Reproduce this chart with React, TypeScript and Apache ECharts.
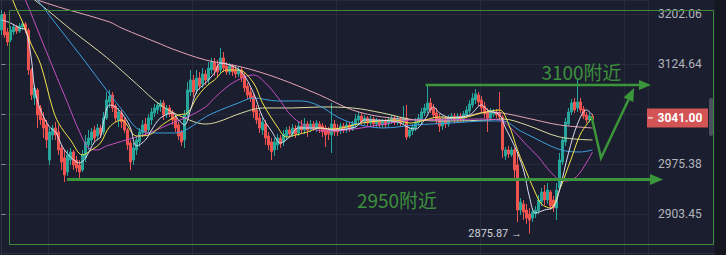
import React, { useEffect, useRef } from 'react';
import * as echarts from 'echarts';

// ---------- candles (price values) ----------
const OPEN = [
  3177.1, 3200.5, 3174.0, 3161.6, 3174.0, 3181.8, 3175.5, 3181.8, 3186.5, 3177.1,
  3115.5, 3073.1, 3085.2, 3058.1, 3043.2, 3032.8, 2981.2, 3017.9, 3028.3, 3022.4,
  2998.8, 2984.2, 2963.8, 2981.2, 2993.0, 2981.2, 2974.0, 2966.7, 2984.2, 3003.3,
  3010.6, 3025.3, 3016.5, 3028.3, 3022.4, 3043.2, 3067.1, 3077.7, 3061.1, 3040.2,
  3050.6, 3040.2, 3025.3, 3006.2, 2981.2, 2995.9, 3007.7, 3020.9, 3034.2, 3025.3,
  3040.2, 3050.6, 3055.1, 3059.6, 3065.6, 3049.1, 3058.1, 3052.1, 3043.2, 3032.8,
  3022.4, 3010.6, 3047.6, 3082.2, 3100.3, 3085.2, 3103.3, 3094.3, 3109.4, 3100.3,
  3115.5, 3127.7, 3121.6, 3115.5, 3133.9, 3121.6, 3112.5, 3121.6, 3115.5, 3109.4,
  3115.5, 3106.4, 3091.2, 3082.2, 3076.1, 3055.1, 3043.2, 3025.3, 3034.2, 3016.5,
  3007.7, 2995.9, 3003.3, 3013.5, 3007.7, 3016.5, 3025.3, 3019.4, 3028.3, 3020.9,
  3031.3, 3025.3, 3034.2, 3026.8, 3034.2, 3028.3, 3034.2, 3031.3, 3028.3, 3025.3,
  3017.9, 3034.2, 3028.3, 3023.8, 3031.3, 3025.3, 3032.8, 3026.8, 3032.8, 3040.2,
  3046.1, 3037.2, 3043.2, 3035.7, 3041.7, 3034.2, 3038.7, 3032.8, 3038.7, 3034.2,
  3038.7, 3043.2, 3037.2, 3041.7, 3037.2, 3043.2, 3016.5, 3023.8, 3028.3, 3035.7,
  3040.2, 3050.6, 3055.1, 3065.6, 3058.1, 3050.6, 3043.2, 3031.3, 3040.2, 3034.2,
  3041.7, 3046.1, 3040.2, 3046.1, 3041.7, 3047.6, 3053.6, 3062.6, 3070.1, 3077.7,
  3070.1, 3061.1, 3052.1, 3043.2, 3049.1, 3052.1, 3050.6, 3044.7, 2987.1, 2995.9,
  2988.6, 2995.9, 2974.0, 2909.1, 2917.7, 2909.1, 2903.5, 2897.7, 2903.5, 2907.7,
  2920.5, 2934.9, 2923.4, 2934.9, 2923.4, 2912.0, 2940.7, 2978.3, 3007.7, 3034.2,
  3052.1, 3067.1, 3058.1, 3067.1, 3056.6, 3047.6, 3040.2, 3046.1,
];
const CLOSE = [
  3200.5, 3169.3, 3158.5, 3177.1, 3181.8, 3175.5, 3183.3, 3186.5, 3177.1, 3115.5,
  3077.7, 3088.2, 3047.6, 3040.2, 3028.3, 3010.6, 3022.4, 3028.3, 3017.9, 2995.9,
  2978.3, 2959.5, 2988.6, 2993.0, 2974.0, 2969.6, 2963.8, 2988.6, 3007.7, 3013.5,
  3022.4, 3013.5, 3028.3, 3019.4, 3043.2, 3070.1, 3076.1, 3058.1, 3043.2, 3052.1,
  3037.2, 3025.3, 3003.3, 2978.3, 2998.8, 3010.6, 3022.4, 3032.8, 3022.4, 3043.2,
  3052.1, 3058.1, 3062.6, 3065.6, 3047.6, 3058.1, 3049.1, 3040.2, 3028.3, 3016.5,
  3007.7, 3047.6, 3085.2, 3100.3, 3082.2, 3103.3, 3091.2, 3109.4, 3100.3, 3118.5,
  3127.7, 3115.5, 3112.5, 3133.9, 3118.5, 3112.5, 3121.6, 3112.5, 3109.4, 3115.5,
  3103.3, 3088.2, 3077.7, 3073.1, 3052.1, 3040.2, 3028.3, 3037.2, 3013.5, 3003.3,
  2993.0, 3007.7, 3013.5, 3004.7, 3019.4, 3025.3, 3019.4, 3028.3, 3019.4, 3031.3,
  3025.3, 3034.2, 3025.3, 3034.2, 3028.3, 3035.7, 3026.8, 3022.4, 3017.9, 3019.4,
  3034.2, 3022.4, 3022.4, 3031.3, 3025.3, 3032.8, 3026.8, 3034.2, 3041.7, 3046.1,
  3037.2, 3043.2, 3035.7, 3041.7, 3034.2, 3040.2, 3032.8, 3038.7, 3032.8, 3040.2,
  3043.2, 3037.2, 3041.7, 3035.7, 3043.2, 3015.0, 3025.3, 3029.8, 3037.2, 3043.2,
  3052.1, 3058.1, 3065.6, 3055.1, 3047.6, 3040.2, 3031.3, 3040.2, 3034.2, 3043.2,
  3046.1, 3040.2, 3046.1, 3041.7, 3049.1, 3055.1, 3064.1, 3073.1, 3079.2, 3067.1,
  3058.1, 3049.1, 3043.2, 3052.1, 3052.1, 3047.6, 3044.7, 2995.9, 2995.9, 2990.0,
  2995.9, 2966.7, 2909.1, 2920.5, 2906.3, 2897.7, 2894.9, 2906.3, 2909.1, 2923.4,
  2934.9, 2923.4, 2937.8, 2914.8, 2912.0, 2937.8, 2981.2, 3010.6, 3037.2, 3052.1,
  3065.6, 3055.1, 3067.1, 3055.1, 3046.1, 3040.2, 3046.1, 3041.0,
];
const LOW = [
  3169.3, 3164.7, 3152.4, 3158.5, 3169.3, 3170.9, 3172.4, 3177.1, 3172.4, 3107.9,
  3070.1, 3062.6, 3028.3, 3032.8, 3013.5, 2998.8, 2974.0, 3010.6, 3010.6, 2988.6,
  2966.7, 2949.3, 2958.0, 2974.0, 2966.7, 2963.8, 2950.8, 2963.8, 2978.3, 2995.9,
  3003.3, 3007.7, 3010.6, 3013.5, 3017.9, 3040.2, 3058.1, 3052.1, 3037.2, 3029.8,
  3028.3, 3020.9, 2995.9, 2966.7, 2974.0, 2988.6, 3000.3, 3015.0, 3016.5, 3020.9,
  3032.8, 3044.7, 3049.1, 3052.1, 3040.2, 3043.2, 3044.7, 3032.8, 3022.4, 3010.6,
  3001.8, 2998.8, 3043.2, 3076.1, 3074.6, 3079.2, 3085.2, 3088.2, 3092.7, 3094.3,
  3109.4, 3106.4, 3104.9, 3110.9, 3112.5, 3107.9, 3107.9, 3106.4, 3103.3, 3104.9,
  3097.3, 3082.2, 3071.6, 3067.1, 3043.2, 3034.2, 3020.9, 3017.9, 3003.3, 2995.9,
  2981.2, 2987.1, 2995.9, 2998.8, 3001.8, 3010.6, 3013.5, 3015.0, 3013.5, 3016.5,
  3019.4, 3019.4, 3015.0, 3022.4, 3023.8, 3022.4, 3020.9, 3015.0, 3000.3, 3010.6,
  2991.5, 3016.5, 3016.5, 3019.4, 3020.9, 3020.9, 3022.4, 3023.8, 3028.3, 3035.7,
  3032.8, 3032.8, 3031.3, 3031.3, 3029.8, 3029.8, 3028.3, 3028.3, 3028.3, 3029.8,
  3034.2, 3032.8, 3032.8, 3031.3, 3032.8, 3010.6, 3013.5, 3017.9, 3023.8, 3031.3,
  3034.2, 3046.1, 3050.6, 3050.6, 3043.2, 3034.2, 3022.4, 3025.3, 3028.3, 3029.8,
  3037.2, 3035.7, 3037.2, 3037.2, 3037.2, 3043.2, 3049.1, 3058.1, 3064.1, 3061.1,
  3052.1, 3043.2, 3022.4, 3038.7, 3044.7, 3043.2, 3040.2, 2984.2, 2981.2, 2984.2,
  2985.6, 2952.2, 2892.1, 2902.0, 2894.9, 2889.3, 2875.87, 2892.1, 2897.7, 2903.5,
  2914.8, 2916.3, 2917.7, 2909.1, 2906.3, 2894.9, 2937.8, 2974.0, 3001.8, 3031.3,
  3047.6, 3050.6, 3052.1, 3050.6, 3041.7, 3035.7, 3037.2, 3038.7,
];
const HIGH = [
  3208.4, 3205.3, 3180.2, 3183.3, 3186.5, 3184.9, 3188.0, 3189.6, 3189.6, 3180.2,
  3118.5, 3092.7, 3088.2, 3062.6, 3052.1, 3040.2, 3028.3, 3032.8, 3037.2, 3032.8,
  3003.3, 2995.9, 2995.9, 2998.8, 2995.9, 2987.1, 2981.2, 2995.9, 3017.9, 3025.3,
  3028.3, 3031.3, 3034.2, 3032.8, 3052.1, 3082.2, 3085.2, 3082.2, 3064.1, 3058.1,
  3055.1, 3043.2, 3028.3, 3010.6, 3006.2, 3016.5, 3028.3, 3040.2, 3043.2, 3049.1,
  3058.1, 3064.1, 3067.1, 3070.1, 3070.1, 3062.6, 3062.6, 3055.1, 3047.6, 3037.2,
  3025.3, 3055.1, 3097.3, 3115.5, 3107.9, 3115.5, 3112.5, 3118.5, 3115.5, 3127.7,
  3133.9, 3133.9, 3130.8, 3149.3, 3143.1, 3127.7, 3126.2, 3124.6, 3121.6, 3120.1,
  3120.1, 3110.9, 3095.8, 3088.2, 3079.2, 3062.6, 3050.6, 3043.2, 3040.2, 3022.4,
  3013.5, 3013.5, 3019.4, 3017.9, 3025.3, 3029.8, 3031.3, 3034.2, 3032.8, 3037.2,
  3040.2, 3043.2, 3038.7, 3040.2, 3038.7, 3040.2, 3038.7, 3035.7, 3032.8, 3029.8,
  3065.6, 3040.2, 3034.2, 3035.7, 3035.7, 3037.2, 3037.2, 3038.7, 3049.1, 3052.1,
  3050.6, 3047.6, 3046.1, 3046.1, 3044.7, 3043.2, 3041.7, 3041.7, 3041.7, 3044.7,
  3047.6, 3046.1, 3046.1, 3044.7, 3061.1, 3062.6, 3029.8, 3034.2, 3043.2, 3049.1,
  3058.1, 3064.1, 3092.7, 3073.1, 3064.1, 3058.1, 3049.1, 3046.1, 3044.7, 3047.6,
  3050.6, 3050.6, 3050.6, 3050.6, 3053.6, 3061.1, 3070.1, 3080.7, 3086.7, 3082.2,
  3076.1, 3067.1, 3058.1, 3058.1, 3056.6, 3056.6, 3082.2, 3047.6, 3000.3, 3001.8,
  3000.3, 2998.8, 2993.0, 2926.3, 2923.4, 2917.7, 2912.0, 2912.0, 2914.8, 2930.6,
  2940.7, 2945.0, 2947.9, 2937.8, 2929.2, 2947.9, 2991.5, 3015.0, 3043.2, 3058.1,
  3071.6, 3073.1, 3100.3, 3073.1, 3061.1, 3052.1, 3050.6, 3049.1,
];

const FUTURE_SLOTS = 18;
const CATEGORIES = Array.from({ length: OPEN.length + FUTURE_SLOTS }, (_, i) => 'K' + (i + 1));

// ---------- moving-average lines, read at sample candles: [candle index, price] ----------
const MA_WHITE = [
  [0, 3192.7], [3, 3188.0], [6, 3180.2], [8, 3177.1], [10, 3130.8], [11, 3088.2], [13, 3055.1],
  [16, 3029.8], [18, 3022.4], [20, 3003.3], [21, 2995.9], [23, 2985.6], [26, 2976.9], [28, 2984.2],
  [31, 3007.7], [33, 3015.0], [34, 3037.2], [36, 3062.6], [38, 3059.6], [41, 3044.7], [43, 3028.3],
  [45, 3001.8], [48, 3010.6], [50, 3025.3], [53, 3043.2], [57, 3050.6], [59, 3040.2], [61, 3032.8],
  [63, 3055.1], [65, 3082.2], [68, 3095.8], [71, 3110.9], [73, 3126.2], [76, 3123.1], [80, 3112.5],
  [84, 3080.7], [87, 3044.7], [90, 3023.8], [93, 3006.2], [96, 3015.0], [99, 3028.3], [103, 3028.3],
  [106, 3028.3], [111, 3025.3], [118, 3029.8], [121, 3040.2], [132, 3037.2], [136, 3028.3],
  [138, 3026.8], [141, 3040.2], [144, 3059.6], [146, 3050.6], [150, 3043.2], [156, 3047.6],
  [160, 3062.6], [162, 3055.1], [166, 3047.6], [168, 3028.3], [171, 3001.8], [174, 2966.7],
  [176, 2927.7], [178, 2904.9], [181, 2909.1], [184, 2913.4], [186, 2937.8], [189, 2991.5],
  [192, 3034.2], [195, 3055.1], [197, 3047.6],
];
const MA_YELLOW = [
  [0, 3280], [4, 3221], [7, 3189.6], [10, 3153.9], [13, 3124.6], [17, 3058.1], [19, 3035.7],
  [23, 3010.6], [27, 2988.6], [30, 2995.9], [33, 3006.2], [36, 3029.8], [40, 3040.2], [45, 3016.5],
  [49, 3017.9], [54, 3034.2], [59, 3047.6], [62, 3050.6], [65, 3073.1], [68, 3089.7], [71, 3100.3],
  [75, 3115.5], [79, 3115.5], [84, 3095.8], [87, 3065.6], [92, 3029.8], [95, 3015.0], [98, 3017.9],
  [102, 3022.4], [106, 3028.3], [110, 3026.8], [115, 3029.8], [120, 3035.7], [126, 3038.7],
  [131, 3040.2], [136, 3035.7], [140, 3038.7], [146, 3044.7], [153, 3043.2], [160, 3050.6],
  [166, 3055.1], [169, 3034.2], [172, 2995.9], [174, 2974.0], [178, 2933.4], [180, 2917.7],
  [183, 2912.0], [186, 2937.8], [190, 2984.2], [193, 3019.4], [197, 3044.7],
];
const MA_MAGENTA = [
  [0, 3315], [8, 3224.1], [15, 3143.1], [22, 3065.9], [26, 3022.6], [29, 2998.8], [32, 2995.9],
  [35, 3001.8], [45, 3015.0], [50, 3022.4], [57, 3035.7], [62, 3044.7], [68, 3059.6], [71, 3073.1],
  [76, 3092.7], [81, 3104.9], [84, 3107.9], [88, 3095.8], [92, 3074.6], [97, 3044.7], [103, 3028.3],
  [108, 3023.8], [115, 3025.3], [126, 3032.8], [137, 3040.2], [148, 3040.2], [159, 3041.7],
  [166, 3040.2], [169, 3031.3], [172, 3017.9], [175, 3003.3], [179, 2985.6], [183, 2963.8],
  [187, 2950.8], [190, 2952.2], [193, 2963.8], [197, 2993.0],
];
const MA_BLUE = [
  [0, 3296], [12, 3224.1], [20, 3175.5], [28, 3127.7], [35, 3085.2], [41, 3050.6], [45, 3028.3],
  [50, 3020.9], [58, 3020.9], [62, 3026.8], [68, 3044.7], [73, 3055.1], [79, 3065.6], [84, 3073.1],
  [92, 3068.6], [100, 3068.6], [106, 3061.1], [112, 3044.7], [117, 3035.7], [127, 3028.3],
  [138, 3032.8], [150, 3035.7], [162, 3038.7], [167, 3038.7], [173, 3023.8], [177, 3015.0],
  [183, 3001.8], [188, 2994.4], [193, 2993.0], [197, 2995.9],
];
const MA_KHAKI = [
  [0, 3265], [14, 3213.1], [24, 3174.5], [35, 3134.8], [45, 3094.3], [53, 3062.6], [61, 3043.2],
  [68, 3034.2], [72, 3037.2], [80, 3050.6], [87, 3058.1], [97, 3058.1], [106, 3059.6],
  [117, 3058.1], [127, 3050.6], [138, 3040.2], [150, 3038.7], [162, 3040.2], [167, 3041.7],
  [175, 3032.8], [186, 3015.0], [197, 3010.6],
];
const MA_PINK = [
  [0, 3243], [12, 3224.1], [19, 3213.1], [36, 3189.6], [40, 3180.2], [53, 3155.4], [57, 3147.7],
  [68, 3130.8], [80, 3120.1], [92, 3103.3], [106, 3077.7], [117, 3055.1], [127, 3044.7],
  [141, 3040.2], [155, 3046.1], [162, 3052.1], [167, 3050.6], [175, 3043.2], [186, 3032.8],
  [197, 3028.3],
];

// ---------- price axis ----------
const Y_TICK_LABELS = ['2903.45', '2975.38', '3049.09', '3124.64', '3202.06'];

// ---------- annotations ----------
const UPPER_TEXT = '3100附近';
const LOWER_TEXT = '2950附近';
const UPPER_ANCHOR_IDX = 142; // candle whose high starts the upper line
const LOWER_ANCHOR_IDX = 21; // candle whose low starts the lower line
const LOWER_LEVEL = 2953;

const LN = Math.log;
const Y_BASE = parseFloat(Y_TICK_LABELS[0]);
const Y_TOP = parseFloat(Y_TICK_LABELS[Y_TICK_LABELS.length - 1]);
const STEP = LN(Y_TOP / Y_BASE) / (Y_TICK_LABELS.length - 1);
const Y_MIN = LN(Y_BASE) - STEP;
const Y_MAX = LN(Y_BASE) + 4.28 * STEP;

const UP = '#26a69a';
const DOWN = '#ef5350';
const GREEN = '#3b963b';
const GRIDC = '#262a3b';

export default function App() {
  const ref = useRef<HTMLDivElement>(null);

  useEffect(() => {
    document.body.style.margin = '0';
    const chart = echarts.init(ref.current!, null, { renderer: 'svg' });
    const n = OPEN.length;
    const candles = OPEN.map((o, i) => [LN(o), LN(CLOSE[i]), LN(LOW[i]), LN(HIGH[i])]);
    const lowMin = Math.min(...LOW);
    const lowIdx = LOW.indexOf(lowMin);
    const lastLn = LN(CLOSE[n - 1]);

    const maLine = (name: string, pts: number[][], color: string) => ({
      type: 'line',
      name,
      xAxisIndex: 1,
      yAxisIndex: 0,
      data: pts.map(([i, p]) => [i, LN(p)]),
      showSymbol: false,
      symbol: 'none',
      smooth: 0.35,
      clip: true,
      lineStyle: { color, width: 1 },
      z: 3,
      silent: true,
    });

    chart.setOption({
      animation: false,
      backgroundColor: '#1b1e2e',
      grid: { left: 0, right: 78, top: 0, height: 264, outerBoundsMode: 'none', containLabel: false },
      xAxis: [
        {
          type: 'category',
          data: CATEGORIES,
          boundaryGap: true,
          axisLine: { show: false },
          axisTick: { show: false },
          axisLabel: { show: false },
          splitLine: {
            show: true,
            interval: (i: number) => i >= 16 && (i - 16) % 48 === 0,
            lineStyle: { color: GRIDC, width: 1 },
          },
        },
        {
          type: 'value',
          min: -0.5,
          max: CATEGORIES.length - 0.5,
          show: false,
          splitLine: { show: false },
        },
      ],
      yAxis: {
        type: 'value',
        position: 'right',
        min: Y_MIN,
        max: Y_MAX,
        interval: STEP,
        axisLine: { show: true, lineStyle: { color: '#2e3243' } },
        axisTick: { show: true, length: 4, lineStyle: { color: '#8b8f9c' } },
        axisLabel: {
          color: '#b2b5be',
          fontSize: 12,
          fontFamily: 'Roboto',
          margin: 10,
          showMinLabel: false,
          showMaxLabel: false,
          formatter: (v: number) => {
            if (Math.abs(v - lastLn) < STEP * 0.3) return ''; // covered by the last-price tag
            let best = '';
            let d = Infinity;
            for (const s of Y_TICK_LABELS) {
              const dd = Math.abs(LN(parseFloat(s)) - v);
              if (dd < d) {
                d = dd;
                best = s;
              }
            }
            return d < STEP / 4 ? best : '';
          },
        },
        splitLine: { show: true, lineStyle: { color: GRIDC, width: 1 } },
      },
      series: [
        {
          type: 'candlestick',
          xAxisIndex: 0,
          yAxisIndex: 0,
          data: candles,
          barWidth: 1.8,
          itemStyle: {
            color: UP,
            color0: DOWN,
            borderColor: UP,
            borderColor0: DOWN,
            borderWidth: 1,
          },
          z: 2,
          markPoint: {
            symbol: 'circle',
            symbolSize: 1,
            itemStyle: { color: 'rgba(0,0,0,0)' },
            data: [{ coord: [lowIdx, LN(lowMin)], value: lowMin }],
            label: {
              show: true,
              position: 'left',
              distance: 7,
              formatter: lowMin.toFixed(2) + ' →',
              color: '#d1d4dc',
              fontSize: 11,
              fontFamily: 'Roboto',
            },
          },
        },
        maLine('MA120', MA_PINK, '#e3a3b6'),
        maLine('MA60', MA_KHAKI, '#dcdca4'),
        maLine('MA30', MA_BLUE, '#3f9fe0'),
        maLine('MA20', MA_MAGENTA, '#c64fc2'),
        maLine('MA10', MA_YELLOW, '#f3e64a'),
        maLine('MA5', MA_WHITE, '#dcdcf2'),
      ],
    });

    const xy = (i: number, p: number) =>
      chart.convertToPixel({ xAxisIndex: 0, yAxisIndex: 0 }, [i, LN(p)]) as number[];
    const [xU, yU] = xy(UPPER_ANCHOR_IDX, HIGH[UPPER_ANCHOR_IDX]);
    const [xL] = xy(LOWER_ANCHOR_IDX, LOW[LOWER_ANCHOR_IDX]);
    const yL = xy(0, LOWER_LEVEL)[1];
    const [xC, yC] = xy(n - 1, CLOSE[n - 1]);
    const yBox = yC - 1.5;

    const textStyle = (text: string) => ({
      text,
      fill: '#3d903d',
      fontSize: 19,
      fontFamily: '"Noto Sans CJK SC", sans-serif',
      align: 'center',
      verticalAlign: 'middle',
      textAlign: 'center',
      textVerticalAlign: 'middle',
    });

    chart.setOption({
      graphic: {
        elements: [
          { type: 'rect', shape: { x: 715, y: 0, width: 11, height: 255 }, style: { fill: '#141620' }, z: 40 },
          { type: 'line', shape: { x1: 0, y1: 253.5, x2: 714, y2: 253.5 }, style: { stroke: '#2a2e3d', lineWidth: 1 }, z: 40 },
          { type: 'rect', shape: { x: 709, y: 98, width: 4, height: 38, r: 2 }, style: { fill: '#4a4f5e' }, z: 41 },
          {
            type: 'rect',
            shape: { x: 9.5, y: 10.5, width: 704, height: 234 },
            style: { fill: 'none', stroke: '#3f8a39', lineWidth: 1 },
            z: 50,
          },
          { type: 'line', shape: { x1: xU - 2, y1: yU, x2: 641, y2: yU }, style: { stroke: GREEN, lineWidth: 2.5 }, z: 60 },
          { type: 'polygon', shape: { points: [[639, yU - 5], [651, yU], [639, yU + 5]] }, style: { fill: GREEN }, z: 60 },
          { type: 'line', shape: { x1: xL + 2.5, y1: yL, x2: 652, y2: yL }, style: { stroke: GREEN, lineWidth: 3 }, z: 60 },
          { type: 'polygon', shape: { points: [[650, yL - 5.5], [663, yL], [650, yL + 5.5]] }, style: { fill: GREEN }, z: 60 },
          {
            type: 'polyline',
            shape: { points: [[xC - 1, yC - 3], [601, 158], [628.5, 99.8]] },
            style: { stroke: GREEN, lineWidth: 2.5, fill: 'none' },
            z: 60,
          },
          { type: 'polygon', shape: { points: [[623.5, 97.4], [634, 88], [633.4, 102.1]] }, style: { fill: GREEN }, z: 60 },
          { type: 'text', x: 581.5, y: 71, style: textStyle(UPPER_TEXT), z: 60 },
          { type: 'text', x: 397, y: 199, style: textStyle(LOWER_TEXT), z: 60 },
          { type: 'rect', shape: { x: 647, y: yBox - 9.5, width: 61, height: 19 }, style: { fill: '#d35454' }, z: 70 },
          { type: 'line', shape: { x1: 648, y1: yBox, x2: 653, y2: yBox }, style: { stroke: '#ffffff', lineWidth: 1 }, z: 71 },
          {
            type: 'text',
            x: 657.5,
            y: yBox,
            style: {
              text: CLOSE[n - 1].toFixed(2),
              fill: '#ffffff',
              fontSize: 12,
              fontWeight: 'bold',
              fontFamily: 'Roboto',
              align: 'left',
              verticalAlign: 'middle',
              textAlign: 'left',
              textVerticalAlign: 'middle',
            },
            z: 71,
          },
        ],
      },
    });

    return () => chart.dispose();
  }, []);

  return <div ref={ref} style={{ position: 'fixed', left: 0, top: 0, width: 726, height: 255 }} />;
}
